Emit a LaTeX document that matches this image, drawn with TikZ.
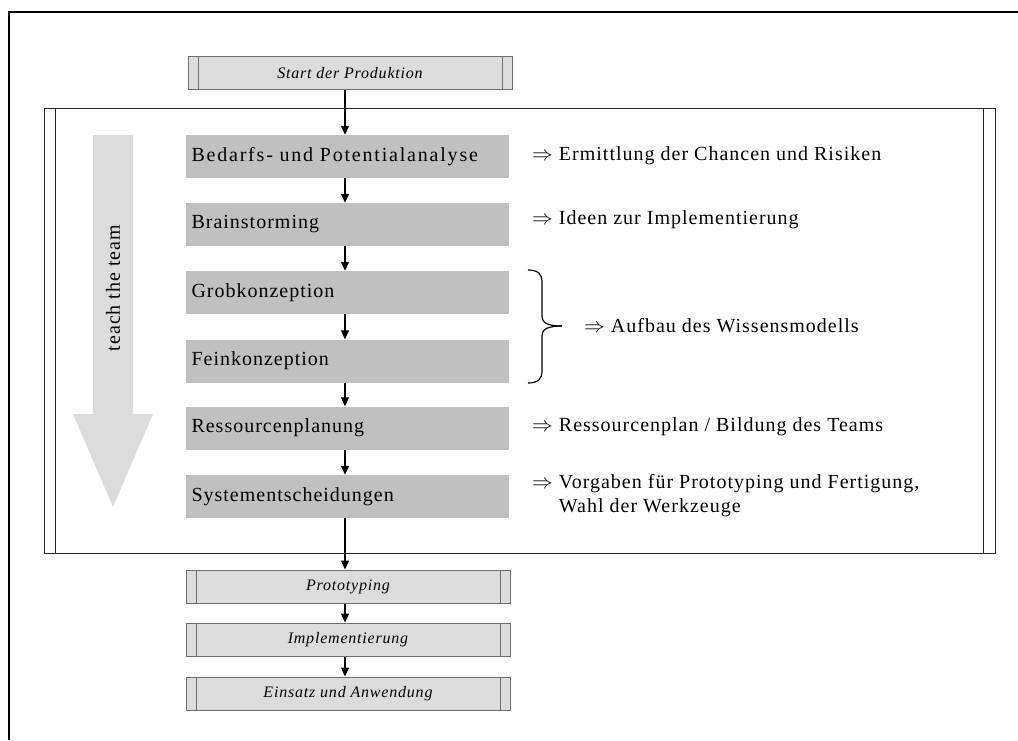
\documentclass[tikz,border=0pt]{standalone}
\usepackage{fontspec}
\setmainfont[LetterSpace=5]{Liberation Serif}
\usetikzlibrary{arrows.meta}
\definecolor{stepgray}{HTML}{C0C0C0}
\definecolor{lightgray}{HTML}{DCDCDC}
\definecolor{edgegray}{HTML}{6E6E6E}
\tikzset{
  stepbox/.style={fill=stepgray, minimum width=323pt, minimum height=43pt,
    text width=312pt, align=left, inner sep=0pt, font=\fontsize{20}{22}\selectfont},
  procbox/.style={fill=lightgray, draw=edgegray, line width=1pt, minimum width=324pt,
    minimum height=33pt, inner sep=0pt, font=\fontsize{16}{18}\selectfont\itshape,
    path picture={
      \draw[edgegray, line width=1pt]
        ([xshift=10pt]path picture bounding box.north west) --
        ([xshift=10pt]path picture bounding box.south west)
        ([xshift=-10pt]path picture bounding box.north east) --
        ([xshift=-10pt]path picture bounding box.south east);}},
  phasebox/.style={draw=black!85, line width=1pt, minimum width=951pt, minimum height=445pt,
    inner sep=0pt,
    path picture={
      \draw[black!85, line width=1pt]
        ([xshift=11pt]path picture bounding box.north west) --
        ([xshift=11pt]path picture bounding box.south west)
        ([xshift=-12pt]path picture bounding box.north east) --
        ([xshift=-12pt]path picture bounding box.south east);}},
  flow/.style={line width=1.3pt, -{Triangle[width=8pt,length=9pt]}},
  note/.style={anchor=west, inner sep=0pt, font=\fontsize{20}{24}\selectfont, align=left},
}
\begin{document}
\begin{tikzpicture}[x=1pt, y=-1pt]
\useasboundingbox (0,0) rectangle (1018,740);
% outer frame (top and left edges)
\draw[line width=2pt] (1018,12) -- (9,12) -- (9,740);

% phase frame
\node[phasebox] (phase) at (519.5,330.5) {};

% "teach the team" arrow
\fill[lightgray] (93,135) -- (133,135) -- (133,414) -- (153,414) -- (113,507)
  -- (73,414) -- (93,414) -- cycle;
\node[rotate=90, font=\fontsize{20}{22}\selectfont] (teach) at (113,288) {teach the team};

% process boxes
\node[procbox] (start) at (350,73) {Start der Produktion};
\node[stepbox] (s1) at (347.5,156.5) {\addfontfeature{LetterSpace=9}Bedarfs- und Potentialanalyse};
\node[stepbox] (s2) at (347.5,224.5) {Brainstorming};
\node[stepbox] (s3) at (347.5,292.5) {Grobkonzeption};
\node[stepbox] (s4) at (347.5,361) {Feinkonzeption};
\node[stepbox] (s5) at (347.5,428) {Ressourcenplanung};
\node[stepbox] (s6) at (347.5,496.5) {Systementscheidungen};
\node[procbox] (p1) at (348,586.5) {Prototyping};
\node[procbox] (p2) at (348,639.5) {Implementierung};
\node[procbox] (p3) at (348,693.5) {Einsatz und Anwendung};

% connectors
\draw[flow] (start.south -| 345,0) -- (s1.north -| 345,0);
\draw[flow] (s1.south -| 345,0) -- (s2.north -| 345,0);
\draw[flow] (s2.south -| 345,0) -- (s3.north -| 345,0);
\draw[flow] (s3.south -| 345,0) -- (s4.north -| 345,0);
\draw[flow] (s4.south -| 345,0) -- (s5.north -| 345,0);
\draw[flow] (s5.south -| 345,0) -- (s6.north -| 345,0);
\draw[flow] (s6.south -| 345,0) -- (p1.north -| 345,0);
\draw[flow] (p1.south -| 345,0) -- (p2.north -| 345,0);
\draw[flow] (p2.south -| 345,0) -- (p3.north -| 345,0);

% results
\node[note] (r1) at (532,156) {$\Rightarrow$ Ermittlung der Chancen und Risiken};
\node[note] (r2) at (532,220) {$\Rightarrow$ Ideen zur Implementierung};
\node[note] (r3) at (584,326) {$\Rightarrow$ Aufbau des Wissensmodells};
\node[note] (r4) at (532,427) {$\Rightarrow$ Ressourcenplan / Bildung des Teams};
\node[note] (r5) at (532,496) {$\Rightarrow$ Vorgaben für Prototyping und Fertigung,\\
  \hphantom{$\Rightarrow$ }Wahl der Werkzeuge};

% brace around Grob- and Feinkonzeption
\draw[line width=1.2pt] (528,270) .. controls (538,270) and (542,274) .. (542,282)
  -- (542,316) .. controls (542,322) and (546,326) .. (562,326);
\draw[line width=1.2pt] (528,383) .. controls (538,383) and (542,379) .. (542,371)
  -- (542,336) .. controls (542,330) and (546,326) .. (562,326);
\end{tikzpicture}
\end{document}
